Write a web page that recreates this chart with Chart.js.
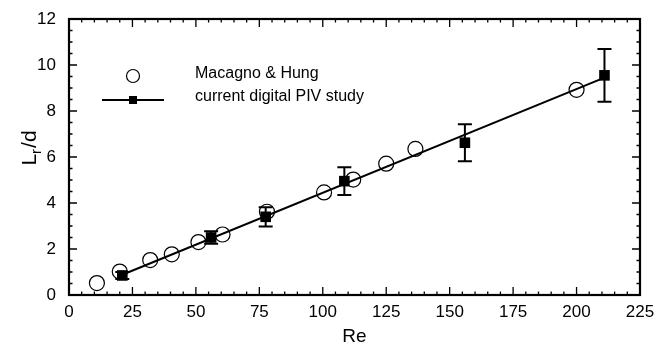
<!DOCTYPE html>
<html>
<head>
<meta charset="utf-8">
<script src="https://cdn.jsdelivr.net/npm/chart.js@4.4.1/dist/chart.umd.min.js"></script>
<style>
  html, body { margin: 0; padding: 0; background: #fff; }
  #wrap { width: 669px; height: 347px; position: relative; }
</style>
</head>
<body>
<div id="wrap"><canvas id="chartLr"></canvas></div>
<script>
// Macagno & Hung (open circles)
const reMacagno = [11, 20, 32, 40.5, 51, 60.5, 78, 100.5, 112, 125, 136.5, 200];
const lrMacagno = [0.52, 1.02, 1.52, 1.77, 2.3, 2.63, 3.62, 4.46, 5.02, 5.71, 6.35, 8.92];

// current digital PIV study (filled squares + error bars)
const rePiv = [21, 56, 77.5, 108.5, 156, 211];
const lrPiv = [0.85, 2.5, 3.4, 4.95, 6.62, 9.55];
const errPiv = [0.15, 0.27, 0.42, 0.6, 0.8, 1.15];

// linear fit through the PIV data
const reFit = [21, 211];
const lrFit = [0.88, 9.45];

// axis ticks
const xTicks = [0, 25, 50, 75, 100, 125, 150, 175, 200, 225];
const yTicks = [0, 2, 4, 6, 8, 10, 12];

const FONT = '"Liberation Sans", Arial, Helvetica, sans-serif';

const toXY = (xs, ys) => xs.map((x, i) => ({ x, y: ys[i] }));

// -------------------------------------------------------
// Error bars for the PIV squares
// -------------------------------------------------------
const errorBars = {
    id: 'errorBars',
    afterDatasetsDraw(chart) {
        const { ctx, scales: { x, y } } = chart;
        ctx.save();
        ctx.strokeStyle = '#000';
        ctx.lineWidth = 2;
        rePiv.forEach((re, i) => {
            const px = x.getPixelForValue(re);
            const top = y.getPixelForValue(lrPiv[i] + errPiv[i]);
            const bot = y.getPixelForValue(lrPiv[i] - errPiv[i]);
            ctx.beginPath();
            ctx.moveTo(px, top); ctx.lineTo(px, bot);
            ctx.moveTo(px - 7, top); ctx.lineTo(px + 7, top);
            ctx.moveTo(px - 7, bot); ctx.lineTo(px + 7, bot);
            ctx.stroke();
        });
        ctx.restore();
    }
};

// -------------------------------------------------------
// Frame, inward ticks, axis titles and legend
// -------------------------------------------------------
const frame = {
    id: 'frame',
    afterDraw(chart) {
        const { ctx, scales: { x, y } } = chart;
        const a = {
            left: x.getPixelForValue(0),
            right: x.getPixelForValue(225),
            top: y.getPixelForValue(12),
            bottom: y.getPixelForValue(0)
        };
        ctx.save();
        ctx.strokeStyle = '#000';

        ctx.lineWidth = 1.3;
        ctx.beginPath();
        for (let v = 0; v <= 225; v += 5) {
            const px = x.getPixelForValue(v);
            const len = v % 25 === 0 ? 8 : 3.5;
            ctx.moveTo(px, a.bottom); ctx.lineTo(px, a.bottom - len);
            ctx.moveTo(px, a.top); ctx.lineTo(px, a.top + len);
        }
        for (let v = 0; v <= 12; v += 0.5) {
            const py = y.getPixelForValue(v);
            const len = v % 2 === 0 ? 8 : 3.5;
            ctx.moveTo(a.left, py); ctx.lineTo(a.left + len, py);
            ctx.moveTo(a.right, py); ctx.lineTo(a.right - len, py);
        }
        ctx.stroke();

        ctx.lineWidth = 2.2;
        ctx.strokeRect(a.left, a.top, a.right - a.left, a.bottom - a.top);

        // axis titles
        ctx.fillStyle = '#000';
        ctx.font = '19px ' + FONT;
        ctx.textAlign = 'center';
        ctx.textBaseline = 'alphabetic';
        ctx.fillText('Re', (a.left + a.right) / 2, 342);

        ctx.save();
        ctx.translate(36, 148);
        ctx.rotate(-Math.PI / 2);
        ctx.textAlign = 'left';
        ctx.font = '21px ' + FONT;
        const wL = ctx.measureText('L').width;
        ctx.font = '15px ' + FONT;
        const wr = ctx.measureText('r').width + 1;
        ctx.font = '21px ' + FONT;
        const wRest = ctx.measureText('/d').width;
        const x0 = -(wL + wr + wRest) / 2;
        ctx.fillText('L', x0, 0);
        ctx.font = '15px ' + FONT;
        ctx.fillText('r', x0 + wL, 5);
        ctx.font = '21px ' + FONT;
        ctx.fillText('/d', x0 + wL + wr, 0);
        ctx.restore();

        // legend
        ctx.lineWidth = 1.2;
        ctx.beginPath();
        ctx.arc(133, 76, 6.5, 0, Math.PI * 2);
        ctx.stroke();
        ctx.lineWidth = 2;
        ctx.beginPath();
        ctx.moveTo(102, 100); ctx.lineTo(164, 100);
        ctx.stroke();
        ctx.fillRect(129, 96, 8, 8);

        ctx.font = '16px ' + FONT;
        ctx.textAlign = 'left';
        ctx.fillText('Macagno & Hung', 195, 78);
        ctx.fillText('current digital PIV study', 195, 101);
        ctx.restore();
    }
};

const config = {
    type: 'scatter',
    data: {
        datasets: [
            {
                label: 'Macagno & Hung',
                data: toXY(reMacagno, lrMacagno),
                pointStyle: 'circle',
                pointRadius: 7.5,
                backgroundColor: 'rgba(0,0,0,0)',
                borderColor: '#000',
                borderWidth: 1.2
            },
            {
                label: 'fit',
                data: toXY(reFit, lrFit),
                showLine: true,
                pointRadius: 0,
                borderColor: '#000',
                borderWidth: 2
            },
            {
                label: 'current digital PIV study',
                data: toXY(rePiv, lrPiv),
                pointStyle: 'rect',
                pointRadius: 7.5,
                backgroundColor: '#000',
                borderColor: '#000',
                borderWidth: 0
            }
        ]
    },
    options: {
        responsive: false,
        animation: false,
        layout: { padding: { top: 19, right: 29, left: 0, bottom: 0 } },
        plugins: {
            legend: { display: false },
            tooltip: { enabled: false }
        },
        scales: {
            x: {
                type: 'linear',
                min: 0, max: 225,
                afterBuildTicks: s => { s.ticks = xTicks.map(v => ({ value: v })); },
                afterFit: s => { s.height = 52; s.paddingLeft = 0; s.paddingRight = 0; },
                grid: { display: false, drawTicks: false },
                border: { display: false },
                ticks: { color: '#000', padding: 7, maxRotation: 0, font: { family: FONT, size: 17 } }
            },
            y: {
                type: 'linear',
                min: 0, max: 12,
                afterBuildTicks: s => { s.ticks = yTicks.map(v => ({ value: v })); },
                afterFit: s => { s.width = 69; s.paddingTop = 0; s.paddingBottom = 0; },
                grid: { display: false, drawTicks: false },
                border: { display: false },
                ticks: { color: '#000', padding: 13, font: { family: FONT, size: 17 } }
            }
        }
    },
    plugins: [errorBars, frame]
};

const canvas = document.getElementById('chartLr');
canvas.width = 669;
canvas.height = 347;
new Chart(canvas.getContext('2d'), config);
</script>
</body>
</html>
